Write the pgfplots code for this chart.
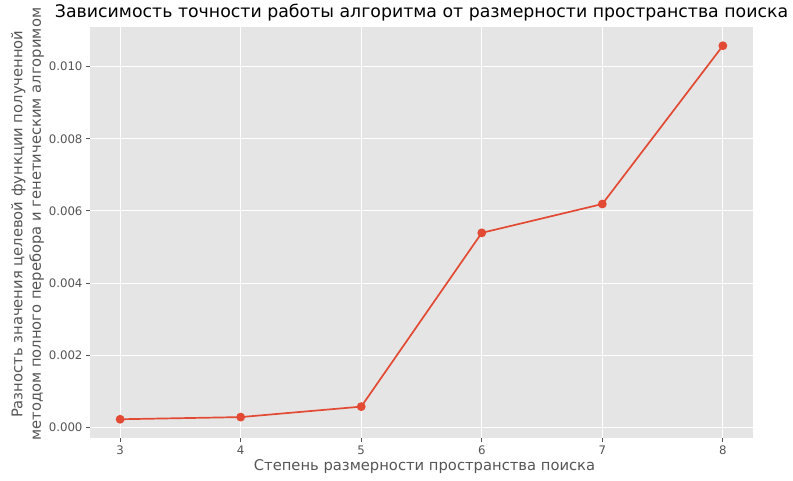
\documentclass[border=0pt]{standalone}
\usepackage{pgfplots}
\pgfplotsset{compat=1.18}
\usepackage{fontspec}
\setmainfont{DejaVu Sans}

\definecolor{ggbg}{HTML}{E5E5E5}
\definecolor{ggred}{HTML}{E24A33}
\definecolor{gglabel}{HTML}{555555}

\begin{document}
\begin{tikzpicture}
\begin{axis}[
    scale only axis,
    width=663bp, height=411bp,
    xmin=2.75, xmax=8.25,
    ymin=-0.00030, ymax=0.0111,
    xtick={3,4,5,6,7,8},
    ytick={0,0.002,0.004,0.006,0.008,0.010},
    scaled y ticks=false,
    yticklabel style={/pgf/number format/.cd, fixed, fixed zerofill, precision=3},
    /pgf/number format/assume math mode=true,
    axis background/.style={fill=ggbg},
    axis line style={draw=none},
    grid=major,
    major grid style={white, line width=0.8bp},
    tick align=outside,
    major tick length=4bp,
    tick style={gglabel, line width=0.8bp},
    xtick pos=bottom, ytick pos=left,
    ticklabel style={font=\fontsize{11.8}{13}\selectfont, text=gglabel},
    xlabel={Степень размерности пространства поиска},
    ylabel={\shortstack{Разность значения целевой функции полученной\\[1bp]методом полного перебора и генетическим алгоримом}},
    label style={font=\fontsize{14.8}{17}\selectfont, text=gglabel},
    xlabel style={yshift=2bp, xshift=3bp},
    ylabel style={at={(ticklabel cs:0.52)}, yshift=-2bp},
    title={Зависимость точности работы алгоритма от размерности пространства поиска},
    title style={font=\fontsize{17.4}{19}\selectfont, yshift=-4bp},
]
\addplot[color=ggred, line width=1.7bp, mark=*, mark size=3.5bp, mark options={fill=ggred, draw=ggred}]
coordinates {
    (3,0.00022)
    (4,0.00028)
    (5,0.00057)
    (6,0.00539)
    (7,0.00619)
    (8,0.01058)
};
\end{axis}
\path ([xshift=-90bp,yshift=-42bp]current axis.south west) rectangle ([xshift=40bp,yshift=27bp]current axis.north east);
\end{tikzpicture}
\end{document}
